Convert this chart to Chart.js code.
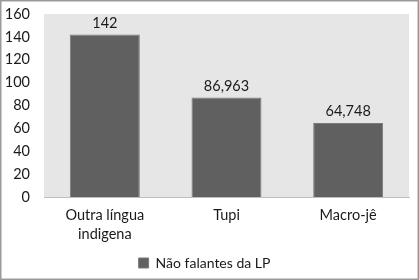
<!DOCTYPE html>
<html>
<head>
<meta charset="utf-8">
<script src="https://cdn.jsdelivr.net/npm/chart.js@4"></script>
<style>
  body { margin: 0; background: #fff; }
  #wrap { position: relative; width: 419px; height: 280px; }
</style>
</head>
<body>
<div id="wrap"><canvas id="chart" width="419" height="280"></canvas></div>
<script>
const categories = [["Outra língua", "indigena"], "Tupi", "Macro-jê"];
const values = [142, 86.963, 64.748];
const valueLabels = ["142", "86,963", "64,748"];
const seriesName = "Não falantes da LP";
const yTicks = [0, 20, 40, 60, 80, 100, 120, 140, 160];

const FONT = "Lato, 'Open Sans', sans-serif";
Chart.defaults.font.family = FONT;
Chart.defaults.font.size = 14.5;
Chart.defaults.color = "#1a1a1a";

// plot background + outer frame
const frame = {
    id: "frame",
    beforeDraw(chart) {
        const { ctx, chartArea: a } = chart;
        ctx.save();
        ctx.fillStyle = "#fff";
        ctx.fillRect(0, 0, chart.width, chart.height);
        ctx.fillStyle = "#e6e6e6";
        ctx.fillRect(a.left, a.top, a.right - a.left, a.bottom - a.top);
        ctx.restore();
    },
    afterDraw(chart) {
        const ctx = chart.ctx;
        ctx.save();
        ctx.strokeStyle = "#9a9a9a";
        ctx.lineWidth = 1.5;
        ctx.strokeRect(0.75, 0.75, chart.width - 1.5, chart.height - 1.5);
        ctx.restore();
    }
};

// value labels above bars
const barLabels = {
    id: "barLabels",
    afterDatasetsDraw(chart) {
        const ctx = chart.ctx;
        const meta = chart.getDatasetMeta(0);
        ctx.save();
        ctx.font = "14.5px " + FONT;
        ctx.fillStyle = "#1a1a1a";
        ctx.textAlign = "center";
        ctx.textBaseline = "bottom";
        meta.data.forEach((bar, i) => {
            ctx.fillText(valueLabels[i], bar.x, bar.y - 4);
        });
        ctx.restore();
    }
};

new Chart(document.getElementById("chart"), {
    type: "bar",
    data: {
        labels: categories,
        datasets: [{
            label: seriesName,
            data: values,
            backgroundColor: "#606060",
            borderColor: "#7a7a7a",
            borderWidth: 1,
            barPercentage: 1,
            categoryPercentage: 0.575
        }]
    },
    options: {
        responsive: false,
        animation: false,
        layout: { padding: { top: 14, right: 10, left: 0, bottom: 0 } },
        plugins: {
            legend: {
                position: "bottom",
                labels: {
                    boxWidth: 10,
                    boxHeight: 10,
                    padding: 6,
                    font: { size: 14, family: FONT },
                    color: "#1a1a1a"
                }
            },
            tooltip: { enabled: false }
        },
        scales: {
            x: {
                grid: { display: false, drawTicks: false },
                border: { display: true, color: "#bfbfbf" },
                ticks: { padding: 9, maxRotation: 0, autoSkip: false, font: { lineHeight: 1.3 } },
                afterFit(scale) { scale.height = 53; }
            },
            y: {
                min: 0,
                max: 160,
                afterBuildTicks(scale) { scale.ticks = yTicks.map(v => ({ value: v })); },
                grid: { display: false, drawTicks: false },
                border: { display: false },
                ticks: { padding: 14 },
                afterFit(scale) {
                    scale.width = 44;
                    scale.paddingTop = 0;
                    scale.paddingBottom = 0;
                }
            }
        }
    },
    plugins: [frame, barLabels]
});
</script>
</body>
</html>
